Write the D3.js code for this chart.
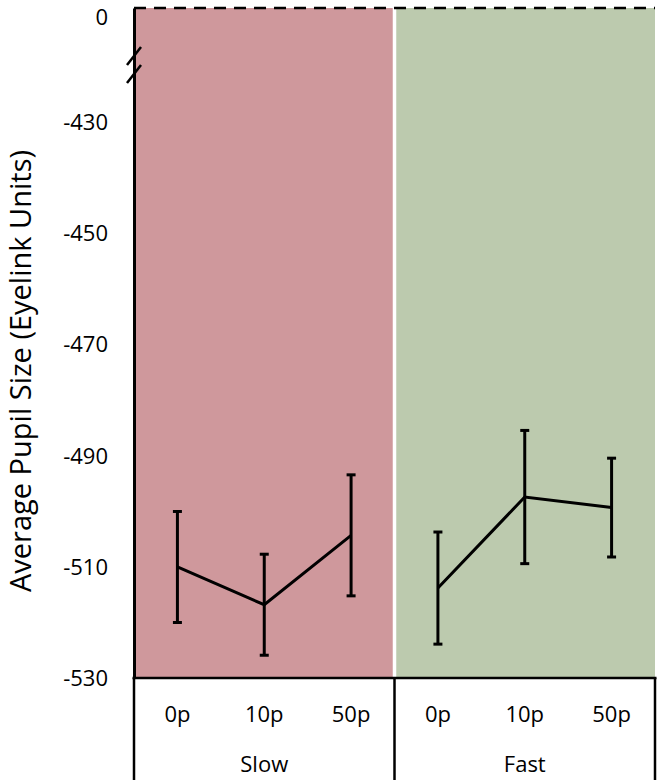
<!DOCTYPE html>
<html>
<head>
<meta charset="utf-8">
<script src="https://cdn.jsdelivr.net/npm/d3@7"></script>
<style>
  html, body { margin: 0; padding: 0; background: #ffffff; }
  svg { display: block; }
  text { font-family: "Open Sans", "Noto Sans", sans-serif; fill: #000; }
</style>
</head>
<body>
<svg id="chart" width="657" height="783"></svg>
<script>
// ---- data ----
const groups = ["Slow", "Fast"];
const conditions = ["0p", "10p", "50p"];
const slowMeans = [-510.0, -516.8, -504.3];
const slowErrors = [10.0, 9.1, 10.9];
const fastMeans = [-513.8, -497.4, -499.3];
const fastErrors = [10.1, 12.0, 8.9];
const yTickValues = [-530, -510, -490, -470, -450, -430];
const yBreakTopValue = -409.3;   // value drawn at top of broken axis
const yBreakTopLabel = "0";
const groupColors = ["#cf989c", "#bccaae"];
const yTitle = "Average Pupil Size (Eyelink Units)";

(function () {
// ---- layout ----
const svg = d3.select("#chart");
const mLeft = 134, mRight = 655, mTop = 8, mBottom = 678;

const y = d3.scaleLinear().domain([-530, yBreakTopValue]).range([mBottom, mTop]);
const keys = [];
groups.forEach(g => conditions.forEach(c => keys.push(g + "|" + c)));
const x = d3.scaleBand().domain(keys).range([mLeft, mRight]).padding(0);
const groupX = d3.scaleBand().domain(groups).range([mLeft, mRight]).padding(0);

// backgrounds
svg.append("g").selectAll("rect").data(groups).join("rect")
  .attr("x", d => groupX(d))
  .attr("y", mTop)
  .attr("width", groupX.bandwidth())
  .attr("height", mBottom - mTop)
  .attr("fill", (d, i) => groupColors[i]);

// white divider
svg.append("line")
  .attr("x1", groupX("Fast")).attr("x2", groupX("Fast"))
  .attr("y1", mTop).attr("y2", mBottom)
  .attr("stroke", "#ffffff").attr("stroke-width", 3.5);

// dashed zero line at top
svg.append("line")
  .attr("x1", mLeft).attr("x2", mRight)
  .attr("y1", y(yBreakTopValue)).attr("y2", y(yBreakTopValue))
  .attr("stroke", "#000").attr("stroke-width", 2.5)
  .attr("stroke-dasharray", "12,8");

// y axis
const yAxis = d3.axisLeft(y)
  .tickValues(yTickValues.concat([yBreakTopValue]))
  .tickFormat(d => d === yBreakTopValue ? yBreakTopLabel : String(d))
  .tickSize(0).tickPadding(26);
const ya = svg.append("g").attr("transform", `translate(${mLeft},0)`).call(yAxis);
ya.select(".domain").attr("stroke", "#000").attr("stroke-width", 3);
ya.selectAll("text").style("font-size", "22px").style("font-family", "'Open Sans', sans-serif");
ya.selectAll(".tick").filter(d => d === yBreakTopValue).select("text").attr("dy", "0.75em");

// axis break marks
[56, 74].forEach(by => {
  svg.append("line")
    .attr("x1", mLeft - 7).attr("y1", by + 9)
    .attr("x2", mLeft + 7).attr("y2", by - 9)
    .attr("stroke", "#000").attr("stroke-width", 2.5);
});

// y title (baseline placed explicitly)
svg.append("text")
  .attr("transform", `translate(31,${(145 + 597) / 2}) rotate(-90)`)
  .attr("text-anchor", "middle")
  .style("font-size", "29px")
  .text(yTitle);

// x axis frame
svg.append("line").attr("x1", mLeft - 1.5).attr("x2", mRight + 1.5)
  .attr("y1", mBottom).attr("y2", mBottom)
  .attr("stroke", "#000").attr("stroke-width", 2.5);
[mLeft, groupX("Fast"), mRight].forEach(xx => {
  svg.append("line").attr("x1", xx).attr("x2", xx)
    .attr("y1", mBottom).attr("y2", 780)
    .attr("stroke", "#000").attr("stroke-width", 2.5);
});

// category labels
svg.append("g").selectAll("text").data(keys).join("text")
  .attr("x", d => x(d) + x.bandwidth() / 2)
  .attr("y", 714)
  .attr("dy", "0.35em")
  .attr("text-anchor", "middle")
  .style("font-size", "22px")
  .text(d => d.split("|")[1]);
svg.append("g").selectAll("text").data(groups).join("text")
  .attr("x", d => groupX(d) + groupX.bandwidth() / 2)
  .attr("y", 764)
  .attr("dy", "0.35em")
  .attr("text-anchor", "middle")
  .style("font-size", "22px")
  .text(d => d);

// series
const series = [
  { group: "Slow", means: slowMeans, errs: slowErrors },
  { group: "Fast", means: fastMeans, errs: fastErrors }
];
const line = d3.line().x(d => d.x).y(d => d.y);
const capW = 9;
series.forEach(s => {
  const pts = conditions.map((c, i) => ({
    x: x(s.group + "|" + c) + x.bandwidth() / 2,
    m: s.means[i], e: s.errs[i],
    y: y(s.means[i])
  }));
  const g = svg.append("g");
  pts.forEach(p => {
    g.append("line").attr("x1", p.x).attr("x2", p.x)
      .attr("y1", y(p.m + p.e)).attr("y2", y(p.m - p.e))
      .attr("stroke", "#000").attr("stroke-width", 3);
    [p.m + p.e, p.m - p.e].forEach(v => {
      g.append("line").attr("x1", p.x - capW / 2).attr("x2", p.x + capW / 2)
        .attr("y1", y(v)).attr("y2", y(v))
        .attr("stroke", "#000").attr("stroke-width", 3);
    });
  });
  g.append("path").datum(pts).attr("d", line)
    .attr("fill", "none").attr("stroke", "#000").attr("stroke-width", 3);
});
})();
</script>
</body>
</html>
